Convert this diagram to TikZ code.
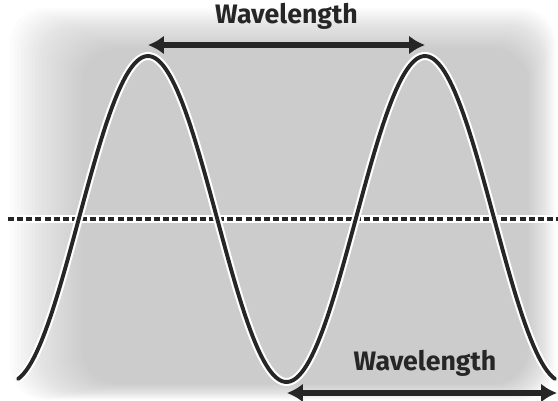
\documentclass[tikz,border=0pt]{standalone}
\usepackage{fontspec}
\setmainfont{Fira Sans}
\usetikzlibrary{arrows.meta}

\begin{document}
\begin{tikzpicture}[x=0.02cm,y=-0.02cm,line width=0.85pt,>={Latex[length=3.2mm,width=3.8mm]},
  wlabel/.style={font=\bfseries\fontsize{15.2}{16}\selectfont,text=black!85},
  halo/.style={white,line width=4.6pt},
  wave/.style={black!85,line width=2.2pt,line cap=round}]
  \useasboundingbox (0,0) rectangle (558,400);
  \fill[white] (0,0) rectangle (558,400);
  % fondo gris difuminado
  \foreach \m in {0,4,...,80}
     \fill[gray,opacity=0.019,rounded corners=20] (10+\m*0.9,8+\m*0.5) rectangle (556-\m*0.35,400-\m*0.2);
  % linea de equilibrio
  \draw[white,line width=4.4pt] (8,219)--(558,219);
  \draw[black!85,line width=2pt,dash pattern=on 3.4pt off 1.8pt] (8,219)--(558,219);
  % onda
  \draw[halo] plot[domain=18:555,samples=200] (\x,{219-163*cos((\x-148)/277*360)});
  \draw[wave] plot[domain=18:555,samples=200] (\x,{219-163*cos((\x-148)/277*360)});
  % longitudes de onda
  \coordinate (cresta1) at (148,45); \coordinate (cresta2) at (425,45);
  \coordinate (valle) at (287,393); \coordinate (fin) at (557,393);
  \draw[<->,line width=3.2pt,black!85] (cresta1)--(cresta2) node[midway,above=4pt,wlabel] (wl1) {Wavelength};
  \draw[<->,line width=3.2pt,black!85] (valle)--(fin);
  \node[wlabel] (wl2) at (425,363) {Wavelength};
\end{tikzpicture}
\end{document}
